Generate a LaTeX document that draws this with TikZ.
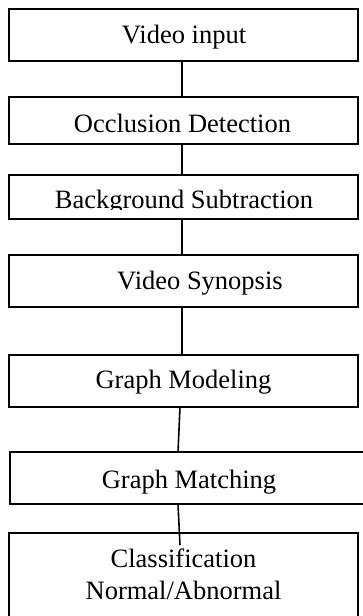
\documentclass[tikz,border=0pt]{standalone}
\usepackage{fontspec}
\setmainfont{Liberation Serif}
\begin{document}
\begin{tikzpicture}[x=1pt,y=-1pt,
  box/.style={draw=black,line width=1.6pt,rectangle,inner sep=0pt,outer sep=0pt},
  txt/.style={inner sep=0pt,anchor=base,font=\fontsize{26.5}{32}\selectfont},
  link/.style={draw=black,line width=1.6pt}]
\useasboundingbox (0,0) rectangle (363,616);
\fill[white] (0,0) rectangle (363,616);
% boxes
\node[box,minimum width=349pt,minimum height=52pt] (b1) at (183.5,35) {};
\node[box,minimum width=349pt,minimum height=47pt] (b2) at (183.5,120.5) {};
\node[box,minimum width=349pt,minimum height=44pt] (b3) at (183.5,197) {};
\node[box,minimum width=349pt,minimum height=52pt] (b4) at (183.5,281) {};
\node[box,minimum width=349pt,minimum height=52pt] (b5) at (183.5,381) {};
\node[box,minimum width=358pt,minimum height=52pt] (b6) at (189,478) {};
\node[box,minimum width=349pt,minimum height=92pt] (b7) at (183.5,579) {};
% texts
\node[txt] (t1) at (184,43) {Video input};
\node[txt] (t2) at (182.5,132) {Occlusion Detection};
\begin{scope}
  \clip (9,175) rectangle (358,209.5);
  \node[txt] (t3) at (184,208.3) {Background Subtraction};
\end{scope}
\node[txt] (t4) at (200,289) {Video Synopsis};
\node[txt] (t5) at (183.5,388) {Graph Modeling};
\node[txt] (t6) at (189,488) {Graph Matching};
\node[txt] (t7a) at (183.5,567) {Classification};
\node[txt] (t7b) at (183.5,599) {Normal/Abnormal};
% connectors
\coordinate (c7) at (180,545);
\draw[link] ([xshift=-1.5pt]b1.south) -- ([xshift=-1.5pt]b2.north);
\draw[link] ([xshift=-1.5pt]b2.south) -- ([xshift=-1.5pt]b3.north);
\draw[link] ([xshift=-1.5pt]b3.south) -- ([xshift=-1.5pt]b4.north);
\draw[link] ([xshift=-1.5pt]b4.south) -- ([xshift=-1.5pt]b5.north);
\draw[link] ([xshift=-3.5pt]b5.south) -- ([xshift=-11pt]b6.north);
\draw[link] ([xshift=-11pt]b6.south) -- (c7);
\end{tikzpicture}
\end{document}
